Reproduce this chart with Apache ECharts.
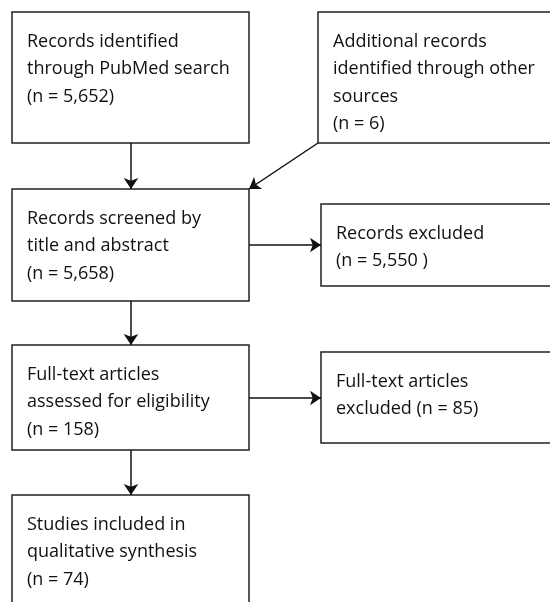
<!DOCTYPE html>
<html>
<head>
<meta charset="utf-8">
<script src="https://cdn.jsdelivr.net/npm/echarts@6/dist/echarts.min.js"></script>
<style>html,body{margin:0;padding:0;background:#fff;}#main{width:550px;height:602px;}</style>
</head>
<body>
<div id="main"></div>
<script>
// ---- data ----
const stageNames = [
  'Records identified\nthrough PubMed search',
  'Additional records\nidentified through other\nsources',
  'Records screened by\ntitle and abstract',
  'Records excluded',
  'Full-text articles\nassessed for eligibility',
  'Full-text articles\nexcluded',
  'Studies included in\nqualitative synthesis'
];
const stageCounts = ['5,652', '6', '5,658', '5,550 ', '158', '85', '74'];
const countInline = [false, false, false, false, false, true, false];
const flowLinks = [[0, 2], [1, 2], [2, 3], [2, 4], [4, 5], [4, 6]];

// ---- layout (pixel positions) ----
const boxLayout = [
  [12, 12, 249, 143],
  [318, 12, 560, 143],
  [12, 189, 249, 301],
  [321, 204, 560, 286],
  [12, 345, 249, 450],
  [321, 352, 560, 443],
  [12, 495, 249, 612]
];
// anchor points [from, to] for each link
const linkAnchors = [
  [[131, 143], [131, 189]],
  [[318, 143], [249, 189]],
  [[249, 245], [321, 245]],
  [[131, 301], [131, 345]],
  [[249, 398], [321, 398]],
  [[131, 450], [131, 495]]
];

function labelText(i) {
  const n = '(n = ' + stageCounts[i] + ')';
  return countInline[i] ? stageNames[i] + ' ' + n : stageNames[i] + '\n' + n;
}

const boxData = boxLayout.map((b, i) => ({ value: b, name: labelText(i) }));
const lineData = flowLinks.map((l, i) => ({ coords: linkAnchors[i] }));

const chart = echarts.init(document.getElementById('main'));
chart.setOption({
  animation: false,
  backgroundColor: '#fff',
  grid: { left: 0, right: 0, top: 0, bottom: 0 },
  xAxis: { type: 'value', min: 0, max: 550, show: false },
  yAxis: { type: 'value', min: 0, max: 602, inverse: true, show: false },
  series: [
    {
      type: 'custom',
      coordinateSystem: 'cartesian2d',
      clip: false,
      data: boxData,
      encode: { x: [0, 2], y: [1, 3] },
      renderItem: function (params, api) {
        const p0 = api.coord([api.value(0), api.value(1)]);
        const p1 = api.coord([api.value(2), api.value(3)]);
        const txt = boxData[params.dataIndex].name;
        return {
          type: 'group',
          children: [
            {
              type: 'rect',
              shape: { x: p0[0], y: p0[1], width: p1[0] - p0[0], height: p1[1] - p0[1] },
              style: { fill: '#fff', stroke: '#222', lineWidth: 1.5 }
            },
            {
              type: 'text',
              x: p0[0] + 15,
              y: p0[1] + 16,
              style: {
                text: txt,
                fill: '#111',
                font: '18px "Open Sans", sans-serif',
                lineHeight: 27.5,
                align: 'left',
                verticalAlign: 'top'
              }
            }
          ]
        };
      }
    },
    {
      type: 'lines',
      coordinateSystem: 'cartesian2d',
      symbol: ['none', 'arrow'],
      symbolSize: [0, 11],
      lineStyle: { color: '#111', width: 1.5, opacity: 1 },
      data: lineData,
      z: 5
    }
  ]
});
</script>
</body>
</html>
